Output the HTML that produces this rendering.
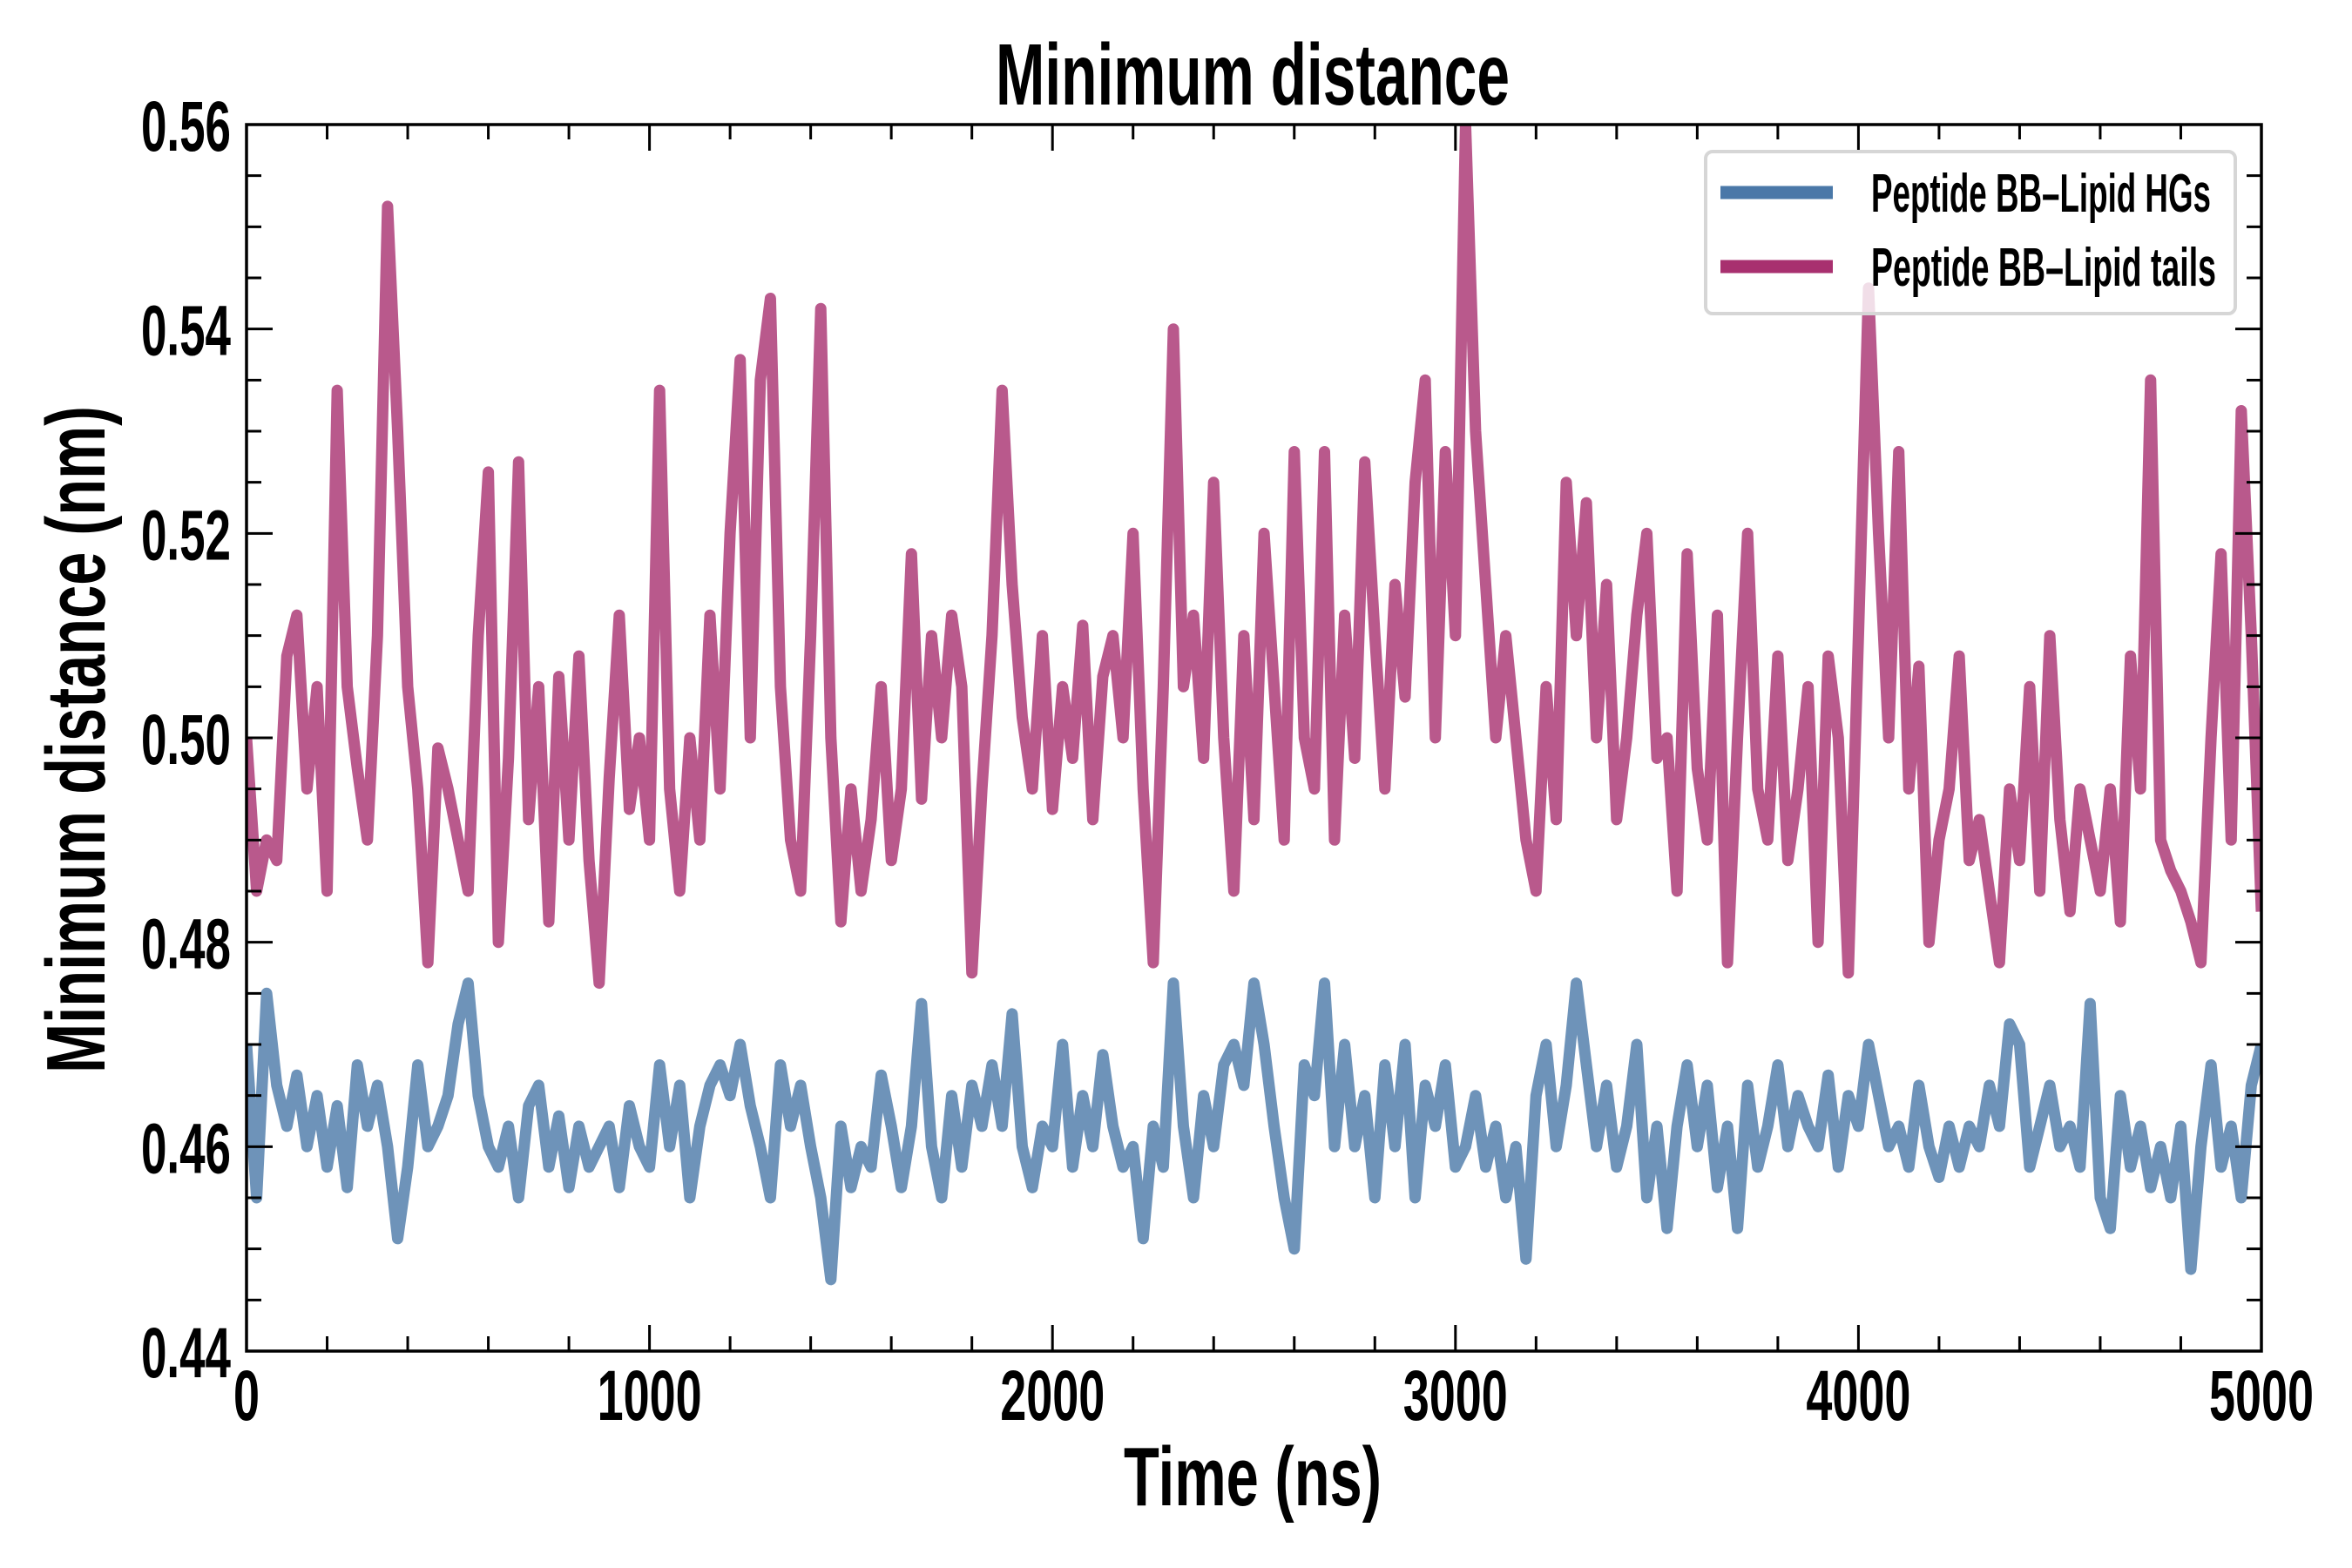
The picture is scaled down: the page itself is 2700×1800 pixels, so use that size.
<!DOCTYPE html>
<html><head><meta charset="utf-8"><style>
body{margin:0;background:#fff}
svg{display:block}
text{font-family:"Liberation Sans Narrow","Liberation Sans",sans-serif;font-weight:bold;fill:#000}
</style></head><body>
<svg id="chart" width="2700" height="1800" viewBox="0 0 2700 1800" xmlns="http://www.w3.org/2000/svg">
<rect width="2700" height="1800" fill="#fff"/>
<g id="series"></g>
<g id="ticks"></g>
<rect x="283" y="143" width="2313" height="1408" fill="none" stroke="#000" stroke-width="3.5"/>
<text x="1438" y="120" font-size="100" text-anchor="middle" textLength="590" lengthAdjust="spacingAndGlyphs">Minimum distance</text>
<text x="1438" y="1728" font-size="96" text-anchor="middle" textLength="296" lengthAdjust="spacingAndGlyphs">Time (ns)</text>
<text transform="translate(120,849) rotate(-90)" font-size="96" text-anchor="middle" textLength="766" lengthAdjust="spacingAndGlyphs">Minimum distance (nm)</text>
<g transform="translate(-22,0)">
<rect x="1980" y="174" width="608" height="186" rx="8" fill="#fff" fill-opacity="0.8" stroke="#d6d6d6" stroke-width="4"/>
<line x1="1997" y1="221" x2="2126" y2="221" stroke="#4a78a8" stroke-width="15"/>
<text x="2170" y="243" font-size="62" textLength="390" lengthAdjust="spacingAndGlyphs">Peptide BB–Lipid HGs</text>
<line x1="1997" y1="306" x2="2126" y2="306" stroke="#a8306f" stroke-width="15"/>
<text x="2170" y="328" font-size="62" textLength="396" lengthAdjust="spacingAndGlyphs">Peptide BB–Lipid tails</text>
</g>
</svg>
<script>
const timeStep = 25;
const tailsValues = [0.500,0.485,0.490,0.488,0.508,0.512,0.495,0.505,0.485,0.534,0.505,0.497,0.490,0.510,0.552,0.530,0.505,0.495,0.478,0.499,0.495,0.490,0.485,0.510,0.526,0.480,0.498,0.527,0.492,0.505,0.482,0.506,0.490,0.508,0.488,0.476,0.496,0.512,0.493,0.500,0.490,0.534,0.495,0.485,0.500,0.490,0.512,0.495,0.520,0.537,0.500,0.535,0.543,0.505,0.490,0.485,0.510,0.542,0.500,0.482,0.495,0.485,0.492,0.505,0.488,0.495,0.518,0.494,0.510,0.500,0.512,0.505,0.477,0.495,0.510,0.534,0.515,0.502,0.495,0.510,0.493,0.505,0.498,0.511,0.492,0.506,0.510,0.500,0.520,0.495,0.478,0.505,0.540,0.505,0.512,0.498,0.525,0.500,0.485,0.510,0.492,0.520,0.505,0.490,0.528,0.500,0.495,0.528,0.490,0.512,0.498,0.527,0.510,0.495,0.515,0.504,0.525,0.535,0.500,0.528,0.510,0.560,0.530,0.515,0.500,0.510,0.500,0.490,0.485,0.505,0.492,0.525,0.510,0.523,0.500,0.515,0.492,0.500,0.512,0.520,0.498,0.500,0.485,0.518,0.497,0.490,0.512,0.478,0.500,0.520,0.495,0.490,0.508,0.488,0.495,0.505,0.480,0.508,0.500,0.477,0.510,0.544,0.520,0.500,0.528,0.495,0.507,0.480,0.490,0.495,0.508,0.488,0.492,0.485,0.478,0.495,0.488,0.505,0.485,0.510,0.492,0.483,0.495,0.490,0.485,0.495,0.482,0.508,0.495,0.535,0.490,0.487,0.485,0.482,0.478,0.500,0.518,0.490,0.532,0.510,0.483];
const hgsValues = [0.470,0.455,0.475,0.466,0.462,0.467,0.460,0.465,0.458,0.464,0.456,0.468,0.462,0.466,0.460,0.451,0.458,0.468,0.460,0.462,0.465,0.472,0.476,0.465,0.460,0.458,0.462,0.455,0.464,0.466,0.458,0.463,0.456,0.462,0.458,0.460,0.462,0.456,0.464,0.460,0.458,0.468,0.460,0.466,0.455,0.462,0.466,0.468,0.465,0.470,0.464,0.460,0.455,0.468,0.462,0.466,0.460,0.455,0.447,0.462,0.456,0.460,0.458,0.467,0.462,0.456,0.462,0.474,0.460,0.455,0.465,0.458,0.466,0.462,0.468,0.462,0.473,0.460,0.456,0.462,0.460,0.470,0.458,0.465,0.460,0.469,0.462,0.458,0.460,0.451,0.462,0.458,0.476,0.462,0.455,0.465,0.460,0.468,0.470,0.466,0.476,0.470,0.462,0.455,0.450,0.468,0.465,0.476,0.460,0.470,0.460,0.465,0.455,0.468,0.460,0.470,0.455,0.466,0.462,0.468,0.458,0.460,0.465,0.458,0.462,0.455,0.460,0.449,0.465,0.470,0.460,0.466,0.476,0.468,0.460,0.466,0.458,0.462,0.470,0.455,0.462,0.452,0.462,0.468,0.460,0.466,0.456,0.462,0.452,0.466,0.458,0.462,0.468,0.460,0.465,0.462,0.460,0.467,0.458,0.465,0.462,0.470,0.465,0.460,0.462,0.458,0.466,0.460,0.457,0.462,0.458,0.462,0.460,0.466,0.462,0.472,0.470,0.458,0.462,0.466,0.460,0.462,0.458,0.474,0.455,0.452,0.465,0.458,0.462,0.456,0.460,0.455,0.462,0.448,0.460,0.468,0.458,0.462,0.455,0.466,0.470];
const xTickLabels = ["0","1000","2000","3000","4000","5000"];
const yTickLabels = ["0.44","0.46","0.48","0.50","0.52","0.54","0.56"];

const X0=283,X1=2596,Y0=1551,Y1=143,XMIN=0,XMAX=5000,YMIN=0.44,YMAX=0.56;
const xs=v=>X0+(v-XMIN)/(XMAX-XMIN)*(X1-X0);
const ys=v=>Y0-(v-YMIN)/(YMAX-YMIN)*(Y0-Y1);
const NS="http://www.w3.org/2000/svg";
const series=document.getElementById('series');
function drawLine(vals,color,name){
  const p=document.createElementNS(NS,'path');
  
  
  p.setAttribute('d',vals.map((v,i)=>(i?'L':'M')+xs(i*timeStep).toFixed(1)+' '+ys(Math.min(v,YMAX+0.003)).toFixed(1)).join(''));
  p.setAttribute('fill','none');p.setAttribute('stroke',color);p.setAttribute('stroke-width','13');
  p.setAttribute('stroke-linejoin','round');p.setAttribute('stroke-opacity','0.8');
  series.appendChild(p);
}
const clip=document.createElementNS(NS,'clipPath');clip.id='pc';
const cr=document.createElementNS(NS,'rect');cr.setAttribute('x',X0);cr.setAttribute('y',Y1);cr.setAttribute('width',X1-X0);cr.setAttribute('height',Y0-Y1);
clip.appendChild(cr);document.getElementById('chart').appendChild(clip);
series.setAttribute('clip-path','url(#pc)');
drawLine(hgsValues,'#4a78a8','line-hgs');
drawLine(tailsValues,'#a8306f','line-tails');

const ticks=document.getElementById('ticks');
function tl(x1,y1,x2,y2){const l=document.createElementNS(NS,'line');
  
  
  l.setAttribute('x1',x1);l.setAttribute('y1',y1);l.setAttribute('x2',x2);l.setAttribute('y2',y2);
  l.setAttribute('stroke','#000');l.setAttribute('stroke-width','3');ticks.appendChild(l);}
function tx(s,x,y,anchor,name,len){const t=document.createElementNS(NS,'text');
  
  
  t.setAttribute('x',x);t.setAttribute('y',y);t.setAttribute('text-anchor',anchor);t.setAttribute('font-size','82');
  t.setAttribute('textLength',len);t.setAttribute('lengthAdjust','spacingAndGlyphs');t.textContent=s;ticks.appendChild(t);}
for(let v=0;v<=5000;v+=200){const x=xs(v),maj=v%1000===0,L=maj?30:17;tl(x,Y0,x,Y0-L);tl(x,Y1,x,Y1+L);}
for(let k=0;k<=24;k++){const v=0.44+k*0.005,y=ys(v),maj=k%4===0,L=maj?30:17;tl(X0,y,X0+L,y);tl(X1,y,X1-L,y);}
xTickLabels.forEach(s=>tx(s,xs(+s),1630,'middle','x-tick-label',s.length*30));
yTickLabels.forEach(s=>tx(s,265,ys(+s)+30,'end','y-tick-label',103));
</script>
</body></html>
